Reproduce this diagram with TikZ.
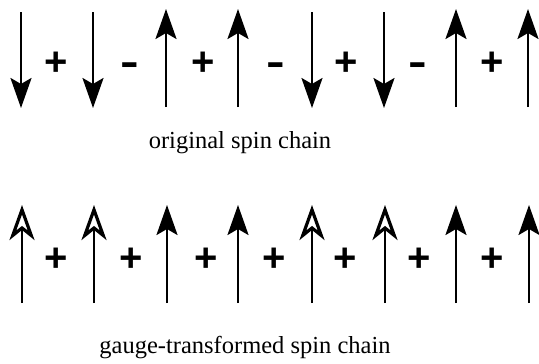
\documentclass[tikz,border=0pt]{standalone}
\usepackage{fontspec}
\setmainfont{Liberation Serif}
\newfontfamily\signfont{Liberation Sans}
\usetikzlibrary{arrows.meta}

\tikzset{
  spin/.style={line width=2.6pt, -{Stealth[length=30pt,width=21pt,inset=6pt]}},
  gaugespin/.style={line width=2.6pt, -{Stealth[open,length=35pt,width=25pt,inset=10pt,line width=3.2pt]}},
  sign/.style={font=\signfont\bfseries\fontsize{40}{40}\selectfont, inner sep=0pt, anchor=base},
  minus/.style={sign, xscale=1.4, transform shape},
  caption/.style={font=\fontsize{24.5}{24.5}\selectfont, inner sep=0pt, anchor=base}
}

\begin{document}
\begin{tikzpicture}[x=1pt,y=-1pt]
	\useasboundingbox (0,0) rectangle (539,364);
	% original chain: ends of the spins
	\coordinate (o1t) at (21,12);  \coordinate (o1b) at (21,108);
	\coordinate (o2t) at (93,12);  \coordinate (o2b) at (93,108);
	\coordinate (o3t) at (166,9);  \coordinate (o3b) at (166,107);
	\coordinate (o4t) at (238,9);  \coordinate (o4b) at (238,107);
	\coordinate (o5t) at (312,12); \coordinate (o5b) at (312,108);
	\coordinate (o6t) at (384,12); \coordinate (o6b) at (384,108);
	\coordinate (o7t) at (456,9);  \coordinate (o7b) at (456,107);
	\coordinate (o8t) at (528,9);  \coordinate (o8b) at (528,107);
	\draw [spin] (o1t) -- (o1b);
	\draw [spin] (o2t) -- (o2b);
	\draw [spin] (o3b) -- (o3t);
	\draw [spin] (o4b) -- (o4t);
	\draw [spin] (o5t) -- (o5b);
	\draw [spin] (o6t) -- (o6b);
	\draw [spin] (o7b) -- (o7t);
	\draw [spin] (o8b) -- (o8t);
	\node [sign] (os1) at (56,75) {+};
	\node [minus] (os2) at (130,75) {-};
	\node [sign] (os3) at (203,75) {+};
	\node [minus] (os4) at (276,75) {-};
	\node [sign] (os5) at (346,75) {+};
	\node [minus] (os6) at (418,75) {-};
	\node [sign] (os7) at (492,75) {+};
	\node [caption] (olabel) at (240,148) {original spin chain};
	% gauge-transformed chain
	\coordinate (g1t) at (22,205);  \coordinate (g1b) at (22,303);
	\coordinate (g2t) at (94,205);  \coordinate (g2b) at (94,303);
	\coordinate (g3t) at (167,205); \coordinate (g3b) at (167,303);
	\coordinate (g4t) at (238,205); \coordinate (g4b) at (238,303);
	\coordinate (g5t) at (312,205); \coordinate (g5b) at (312,303);
	\coordinate (g6t) at (385,205); \coordinate (g6b) at (385,303);
	\coordinate (g7t) at (456,205); \coordinate (g7b) at (456,303);
	\coordinate (g8t) at (529,205); \coordinate (g8b) at (529,303);
	\draw [gaugespin] (g1b) -- (g1t);
	\draw [gaugespin] (g2b) -- (g2t);
	\draw [spin] (g3b) -- (g3t);
	\draw [spin] (g4b) -- (g4t);
	\draw [gaugespin] (g5b) -- (g5t);
	\draw [gaugespin] (g6b) -- (g6t);
	\draw [spin] (g7b) -- (g7t);
	\draw [spin] (g8b) -- (g8t);
	\node [sign] (gs1) at (56,271) {+};
	\node [sign] (gs2) at (131,271) {+};
	\node [sign] (gs3) at (206,271) {+};
	\node [sign] (gs4) at (274,271) {+};
	\node [sign] (gs5) at (345,271) {+};
	\node [sign] (gs6) at (419,271) {+};
	\node [sign] (gs7) at (492,271) {+};
	\node [caption] (glabel) at (245,353) {gauge-transformed spin chain};
\end{tikzpicture}
\end{document}
